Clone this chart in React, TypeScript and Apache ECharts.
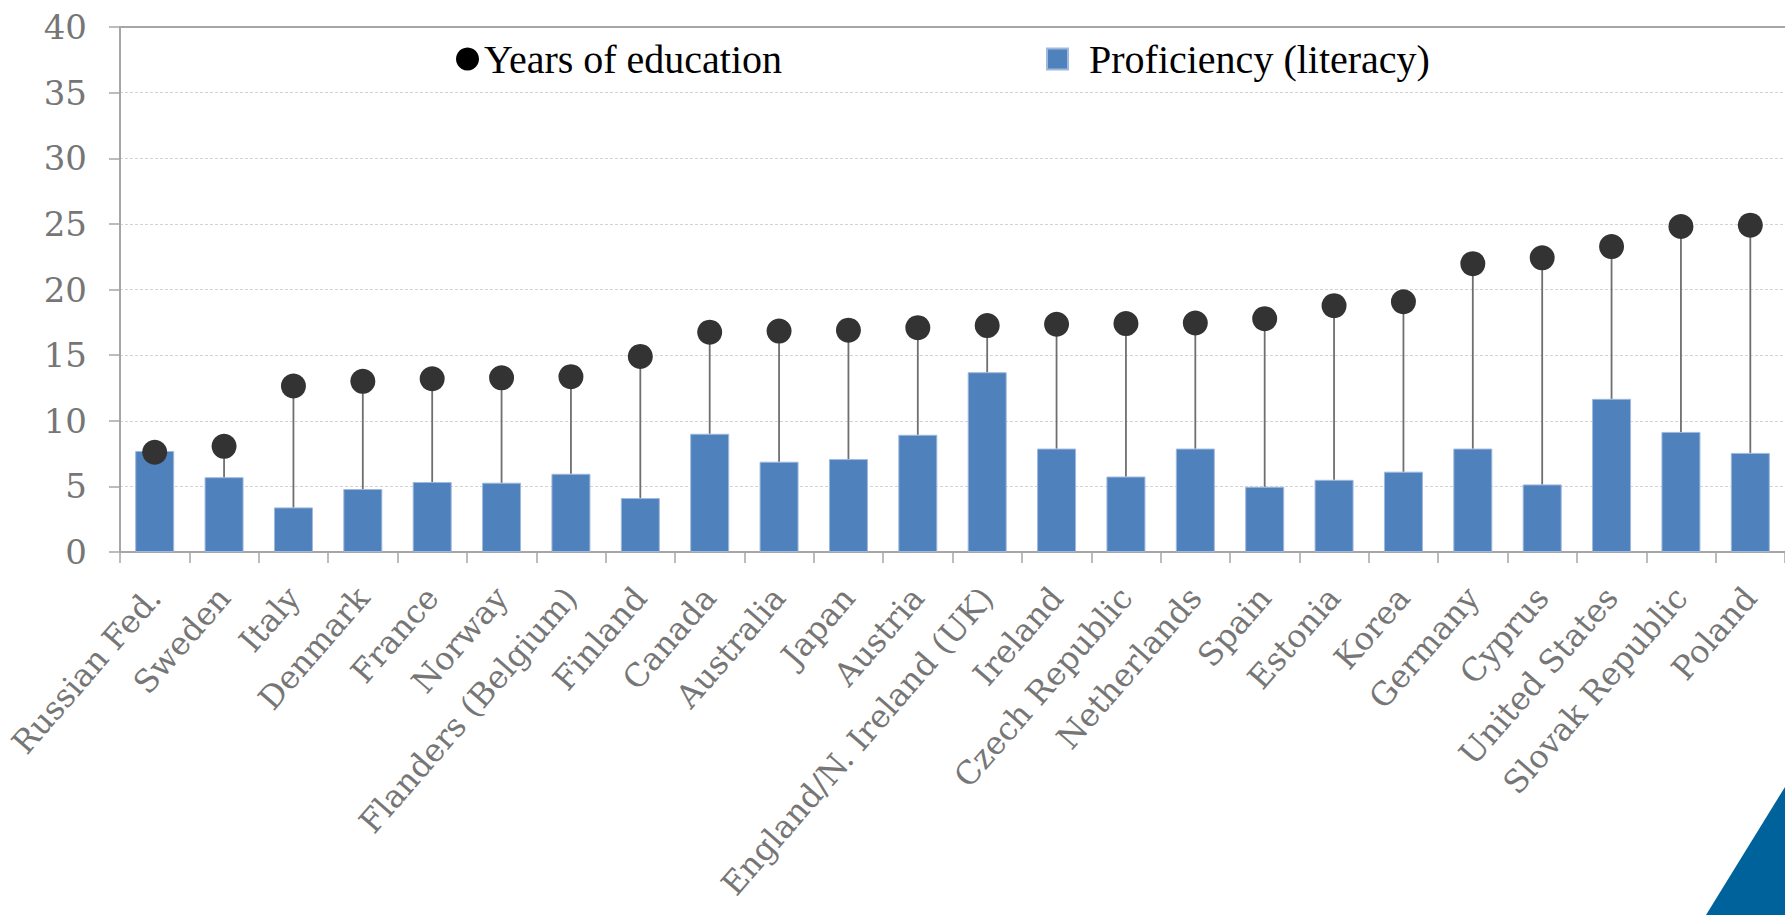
import React, { useEffect, useRef } from "react";
import * as echarts from "echarts";

const categories = [
  "Russian Fed.", "Sweden", "Italy", "Denmark", "France", "Norway",
  "Flanders (Belgium)", "Finland", "Canada", "Australia", "Japan", "Austria",
  "England/N. Ireland (UK)", "Ireland", "Czech Republic", "Netherlands", "Spain",
  "Estonia", "Korea", "Germany", "Cyprus", "United States", "Slovak Republic", "Poland",
];

const yearsOfEducation = [
  7.6, 8.05, 12.65, 13.0, 13.2, 13.27, 13.36, 14.9, 16.75, 16.83, 16.9, 17.09,
  17.25, 17.35, 17.4, 17.45, 17.78, 18.77, 19.07, 21.97, 22.41, 23.27, 24.8, 24.9,
];

const proficiency = [
  7.7, 5.7, 3.4, 4.8, 5.33, 5.28, 5.96, 4.11, 9.01, 6.88, 7.08, 8.93,
  13.7, 7.88, 5.75, 7.88, 4.97, 5.5, 6.12, 7.88, 5.15, 11.67, 9.15, 7.55,
];

const yTicks = { min: 0, max: 40, interval: 5 };

export default function App() {
  const ref = useRef<HTMLDivElement>(null);

  useEffect(() => {
    if (!ref.current) return;
    const chart = echarts.init(ref.current, undefined, { renderer: "svg" });
    const gray = "#767676";
    const axisGray = "#a6a6a6";
    const serif = "DejaVu Serif";
    const stemData = categories.map((_, i) => [i, proficiency[i], yearsOfEducation[i]]);

    chart.setOption({
      animation: false,
      backgroundColor: "#ffffff",
      grid: { left: 120, top: 27, width: 1670, height: 525, containLabel: false },
      legend: [
        {
          data: [{ name: "Years of education", itemStyle: { color: "#000000" } }],
          left: 451,
          top: 34,
          icon: "circle",
          itemWidth: 23,
          itemHeight: 23,
          textStyle: { fontFamily: "Liberation Serif", fontSize: 40, color: "#000000" },
        },
        {
          data: ["Proficiency (literacy)"],
          left: 1041,
          top: 34,
          icon: "rect",
          itemWidth: 21,
          itemHeight: 21,
          textStyle: {
            fontFamily: "Liberation Serif",
            fontSize: 40,
            color: "#000000",
            padding: [0, 0, 0, 16],
          },
        },
      ],
      xAxis: [
        {
          type: "category",
          data: categories,
          position: "bottom",
          axisLine: { show: true, lineStyle: { color: axisGray, width: 2 } },
          axisTick: { show: true, length: 11, lineStyle: { color: axisGray, width: 1.5 } },
          axisLabel: {
            rotate: 49,
            interval: 0,
            margin: 40,
            fontFamily: serif,
            fontSize: 32,
            color: gray,
          },
          splitLine: { show: false },
        },
        {
          type: "category",
          data: categories,
          position: "top",
          axisLine: { show: true, lineStyle: { color: axisGray, width: 2 } },
          axisTick: { show: false },
          axisLabel: { show: false },
        },
      ],
      yAxis: {
        type: "value",
        min: yTicks.min,
        max: yTicks.max,
        interval: yTicks.interval,
        axisLine: { show: true, lineStyle: { color: axisGray, width: 2 } },
        axisTick: { show: true, length: 11, lineStyle: { color: axisGray, width: 1.5 } },
        axisLabel: { margin: 33, fontFamily: serif, fontSize: 34, color: gray },
        splitLine: { show: true, lineStyle: { color: "#d3d3d3", width: 1, type: [3, 2] } },
      },
      series: [
        {
          name: "Proficiency (literacy)",
          type: "bar",
          data: proficiency,
          barWidth: 39,
          itemStyle: { color: "#4F81BD", borderColor: "#9fb9dc", borderWidth: 1 },
          z: 2,
        },
        {
          name: "stems",
          type: "custom",
          data: stemData,
          z: 3,
          silent: true,
          renderItem: (params: any, api: any) => {
            const i = api.value(0);
            const lo = api.value(1);
            const hi = api.value(2);
            if (hi <= lo) return null;
            const p1 = api.coord([i, lo]);
            const p2 = api.coord([i, hi]);
            return {
              type: "line",
              shape: { x1: p1[0], y1: p1[1], x2: p2[0], y2: p2[1] },
              style: { stroke: "#6f6f6f", lineWidth: 1.8 },
            };
          },
          encode: { x: 0, y: [1, 2] },
        },
        {
          name: "Years of education",
          type: "scatter",
          data: yearsOfEducation,
          symbol: "circle",
          symbolSize: 25,
          itemStyle: { color: "#333333", opacity: 1 },
          z: 4,
        },
      ],
      graphic: [
        {
          type: "polygon",
          shape: { points: [[1785, 787], [1706, 915], [1785, 915]] },
          style: { fill: "#00629B" },
          z: 10,
        },
      ],
    });
    return () => chart.dispose();
  }, []);

  return (
    <div
      ref={ref}
      style={{ position: "fixed", left: 0, top: 0, width: 1785, height: 915, background: "#fff" }}
    />
  );
}
